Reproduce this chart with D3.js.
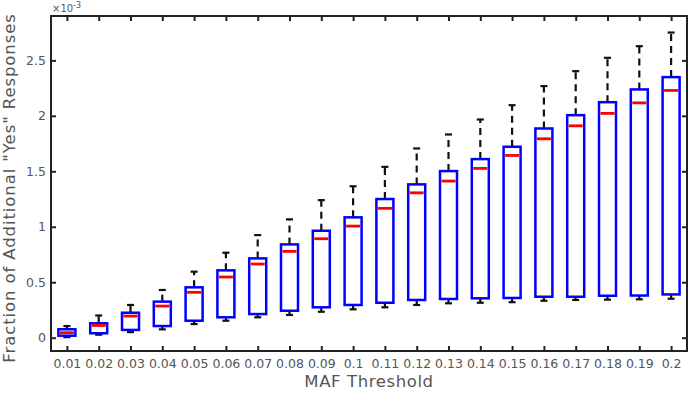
<!DOCTYPE html>
<html><head><meta charset="utf-8">
<script src="https://cdn.jsdelivr.net/npm/d3@7"></script>
<style>
html,body{margin:0;padding:0;background:#fff;}
svg{display:block;}
</style></head>
<body>
<svg id="chart" width="691" height="393"></svg>
<script>
const categories = ["0.01","0.02","0.03","0.04","0.05","0.06","0.07","0.08","0.09","0.1","0.11","0.12","0.13","0.14","0.15","0.16","0.17","0.18","0.19","0.2"];
// values in units of 1e-3
const whiskerLow  = [0.005,0.027,0.050,0.075,0.123,0.153,0.184,0.205,0.234,0.256,0.274,0.295,0.310,0.315,0.320,0.333,0.340,0.343,0.346,0.351];
const q1          = [0.018,0.040,0.070,0.105,0.153,0.184,0.213,0.243,0.274,0.295,0.315,0.340,0.349,0.355,0.358,0.369,0.369,0.378,0.380,0.390];
const median      = [0.045,0.110,0.195,0.285,0.409,0.547,0.664,0.778,0.892,1.006,1.166,1.306,1.412,1.526,1.643,1.793,1.910,2.022,2.117,2.229];
const q3          = [0.076,0.130,0.225,0.325,0.454,0.607,0.715,0.841,0.964,1.085,1.250,1.382,1.502,1.610,1.721,1.886,2.006,2.123,2.238,2.349];
const whiskerHigh = [0.105,0.200,0.295,0.430,0.595,0.766,0.925,1.067,1.240,1.365,1.540,1.706,1.832,1.967,2.096,2.268,2.403,2.523,2.628,2.751];
const yTicks = [0, 0.5, 1, 1.5, 2, 2.5];

const data = categories.map((c,i)=>({c, lo:whiskerLow[i], q1:q1[i], med:median[i], q3:q3[i], hi:whiskerHigh[i]}));

const svg = d3.select("#chart");
const L = 51, R = 687, T = 16, B = 351;
const x = d3.scalePoint().domain(categories).range([L, R]).padding(0.5);
const y = d3.scaleLinear().domain([-0.12, 2.9]).range([B, T]);

const textColor = "#555";
const font = "DejaVu Sans, sans-serif";

// boxes
const boxW = 17, capW = 7;
const g = svg.append("g");
data.forEach(d => {
  const cx = x(d.c);
  // whiskers
  g.append("line").attr("x1",cx).attr("x2",cx).attr("y1",y(d.q3)).attr("y2",y(d.hi))
    .attr("stroke","#111").attr("stroke-width",2.2).attr("stroke-dasharray","7,5");
  g.append("line").attr("x1",cx).attr("x2",cx).attr("y1",y(d.q1)).attr("y2",y(d.lo))
    .attr("stroke","#111").attr("stroke-width",2.2).attr("stroke-dasharray","7,5");
  g.append("line").attr("x1",cx-capW/2).attr("x2",cx+capW/2).attr("y1",y(d.hi)).attr("y2",y(d.hi))
    .attr("stroke","#111").attr("stroke-width",2.2);
  g.append("line").attr("x1",cx-capW/2).attr("x2",cx+capW/2).attr("y1",y(d.lo)).attr("y2",y(d.lo))
    .attr("stroke","#111").attr("stroke-width",2.2);
  g.append("rect").attr("x",cx-boxW/2).attr("y",y(d.q3)).attr("width",boxW).attr("height",y(d.q1)-y(d.q3))
    .attr("fill","#fff").attr("stroke","#0000ff").attr("stroke-width",2.5);
  g.append("line").attr("x1",cx-boxW/2+1.5).attr("x2",cx+boxW/2-1.5).attr("y1",y(d.med)).attr("y2",y(d.med))
    .attr("stroke","#ff0000").attr("stroke-width",2.8);
});

// axes
const axB = svg.append("g").attr("transform",`translate(0,${B})`)
  .call(d3.axisBottom(x).tickSizeInner(-5).tickSizeOuter(0).tickPadding(8));
const axT = svg.append("g").attr("transform",`translate(0,${T})`)
  .call(d3.axisTop(x).tickSizeInner(-5).tickSizeOuter(0).tickFormat(""));
const axL = svg.append("g").attr("transform",`translate(${L},0)`)
  .call(d3.axisLeft(y).tickValues(yTicks).tickSizeInner(-5).tickSizeOuter(0).tickPadding(5).tickFormat(d=>String(d)));
const axR = svg.append("g").attr("transform",`translate(${R},0)`)
  .call(d3.axisRight(y).tickValues(yTicks).tickSizeInner(-5).tickSizeOuter(0).tickFormat(""));
[axB,axT,axL,axR].forEach(a=>{
  a.select(".domain").remove();
  a.selectAll(".tick line").attr("stroke","#222").attr("stroke-width",2);
  a.selectAll(".tick text").attr("fill",textColor).style("font-family",font).style("font-size","12.5px");
});

// frame
svg.append("rect").attr("x",L).attr("y",T).attr("width",R-L).attr("height",B-T)
  .attr("fill","none").attr("stroke","#222").attr("stroke-width",2);

// exponent label
const ex = svg.append("text").attr("x",L+1).attr("y",T-4).attr("fill",textColor)
  .style("font-family",font).style("font-size","10px");
ex.append("tspan").text("×10");
ex.append("tspan").attr("dy",-4).style("font-size","8px").text("-3");

// axis titles
svg.append("text").attr("x",(L+R)/2).attr("y",387).attr("text-anchor","middle")
  .attr("fill",textColor).style("font-family",font).style("font-size","16.5px").style("letter-spacing","0.6px")
  .text("MAF Threshold");
svg.append("text").attr("transform",`translate(15,188) rotate(-90)`).attr("text-anchor","middle")
  .attr("fill",textColor).style("font-family",font).style("font-size","16.5px").style("letter-spacing","0.9px")
  .text("Fraction of Additional \"Yes\" Responses");
</script>
</body></html>
